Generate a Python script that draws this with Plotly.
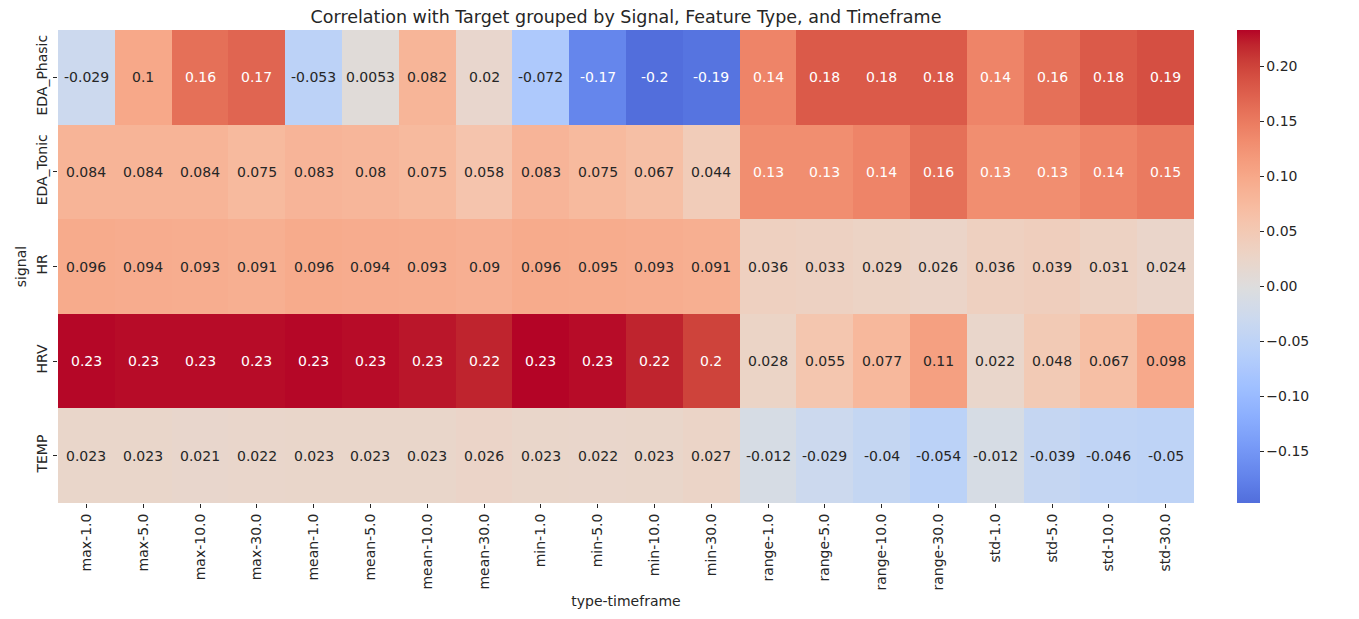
import plotly.graph_objects as go

signals = ["EDA_Phasic", "EDA_Tonic", "HR", "HRV", "TEMP"]
features = ["max-1.0", "max-5.0", "max-10.0", "max-30.0",
            "mean-1.0", "mean-5.0", "mean-10.0", "mean-30.0",
            "min-1.0", "min-5.0", "min-10.0", "min-30.0",
            "range-1.0", "range-5.0", "range-10.0", "range-30.0",
            "std-1.0", "std-5.0", "std-10.0", "std-30.0"]

eda_phasic = [-0.029, 0.1, 0.16, 0.17, -0.053, 0.0053, 0.082, 0.02, -0.072, -0.17, -0.197, -0.19,
              0.14, 0.18, 0.18, 0.18, 0.14, 0.16, 0.18, 0.19]
eda_tonic = [0.084, 0.084, 0.084, 0.075, 0.083, 0.08, 0.075, 0.058, 0.083, 0.075, 0.067, 0.044,
             0.13, 0.13, 0.14, 0.16, 0.13, 0.13, 0.14, 0.15]
hr = [0.096, 0.094, 0.093, 0.091, 0.096, 0.094, 0.093, 0.09, 0.096, 0.095, 0.093, 0.091,
      0.036, 0.033, 0.029, 0.026, 0.036, 0.039, 0.031, 0.024]
hrv = [0.232, 0.23, 0.23, 0.23, 0.232, 0.23, 0.226, 0.22, 0.233, 0.23, 0.22, 0.2,
       0.028, 0.055, 0.077, 0.11, 0.022, 0.048, 0.067, 0.098]
temp = [0.023, 0.023, 0.021, 0.022, 0.023, 0.023, 0.023, 0.026, 0.023, 0.022, 0.023, 0.027,
        -0.012, -0.029, -0.04, -0.054, -0.012, -0.039, -0.046, -0.05]

z = [eda_phasic, eda_tonic, hr, hrv, temp]

cw = [(59, 76, 192), (68, 90, 204), (77, 104, 215), (87, 117, 225), (98, 130, 234),
      (108, 142, 241), (119, 154, 247), (130, 165, 251), (141, 176, 254), (152, 185, 255),
      (163, 194, 255), (174, 201, 253), (184, 208, 249), (194, 213, 244), (204, 217, 238),
      (213, 219, 230), (221, 221, 221), (229, 216, 209), (236, 211, 197), (241, 204, 185),
      (245, 196, 173), (247, 187, 160), (247, 177, 148), (247, 166, 135), (244, 154, 123),
      (241, 141, 111), (236, 127, 99), (229, 112, 88), (222, 96, 77), (213, 80, 66),
      (203, 62, 56), (192, 40, 47), (180, 4, 38)]
n = len(cw) - 1

zmin = min(min(r) for r in z)
zmax = max(max(r) for r in z)
M = max(abs(zmin), abs(zmax))  # colormap centred on 0 (seaborn center=0)


def coolwarm(t):
    t = max(0.0, min(1.0, t))
    p = t * n
    i = min(int(p), n - 1)
    f = p - i
    return tuple(cw[i][k] + (cw[i + 1][k] - cw[i][k]) * f for k in range(3))


def color_at(v):
    return coolwarm((v + M) / (2 * M))


NS = 64
colorscale = []
for j in range(NS + 1):
    s = j / NS
    c = color_at(zmin + s * (zmax - zmin))
    colorscale.append([s, "rgb(%d,%d,%d)" % tuple(round(x) for x in c)])


def lum(c):
    def ch(x):
        x = x / 255.0
        return x / 12.92 if x <= 0.03928 else ((x + 0.055) / 1.055) ** 2.4
    r, g, b = c
    return 0.2126 * ch(r) + 0.7152 * ch(g) + 0.0722 * ch(b)


annotations = []
for yi, s in enumerate(signals):
    for xi, f in enumerate(features):
        v = z[yi][xi]
        col = "white" if lum(color_at(v)) < 0.408 else "#262626"
        annotations.append(dict(x=f, y=s, text=f"{v:.2g}", showarrow=False,
                                font=dict(size=14, color=col, family="DejaVu Sans")))

fig = go.Figure(go.Heatmap(
    z=z, x=features, y=signals, colorscale=colorscale, zmin=zmin, zmax=zmax,
    xgap=0, ygap=0,
    colorbar=dict(x=(1237 - 58) / 1136, xanchor="left", xpad=0, ypad=0,
                  thickness=23, len=1, lenmode="fraction",
                  y=0.5, yanchor="middle", outlinewidth=0, ticks="outside", ticklen=4,
                  tickwidth=1, tickcolor="#262626",
                  tickvals=[-0.15, -0.1, -0.05, 0, 0.05, 0.1, 0.15, 0.2],
                  ticktext=["\u22120.15", "\u22120.10", "\u22120.05", "0.00", "0.05", "0.10", "0.15", "0.20"],
                  tickfont=dict(size=14, color="#262626", family="DejaVu Sans")),
))

fig.update_layout(
    width=1359, height=619,
    margin=dict(l=50, r=173, t=22, b=124),
    paper_bgcolor="white", plot_bgcolor="white",
    font=dict(family="DejaVu Sans", color="#262626", size=14),
    title=dict(text="Correlation with Target grouped by Signal, Feature Type, and Timeframe",
               x=(50 + 1186) / 2 / 1359, xanchor="center", y=1 - 9 / 619, yanchor="middle",
               font=dict(size=17.5, color="#262626")),
    annotations=annotations,
)
fig.update_xaxes(title=dict(text="type-timeframe", font=dict(size=14), standoff=6),
                 tickangle=-90, ticks="outside", ticklen=4, tickcolor="#262626",
                 showgrid=False, zeroline=False, showline=False,
                 tickfont=dict(size=14))
fig.update_yaxes(title=dict(text="signal", font=dict(size=14), standoff=4),
                 tickangle=-90, ticks="outside", ticklen=4, tickcolor="#262626",
                 autorange="reversed", showgrid=False, zeroline=False, showline=False,
                 tickfont=dict(size=14))

fig.write_html("out.html")
